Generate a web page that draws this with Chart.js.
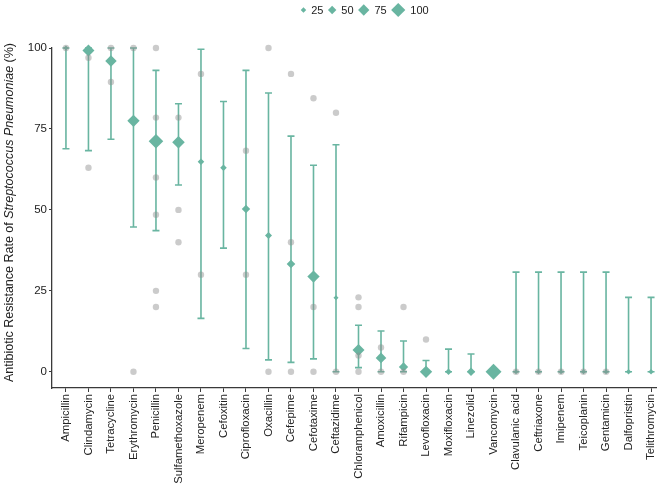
<!DOCTYPE html>
<html><head><meta charset="utf-8">
<script src="https://cdn.jsdelivr.net/npm/chart.js@4"></script>
<style>html,body{margin:0;padding:0;background:#fff}#wrap{width:660px;height:487px;position:relative}</style>
</head><body><div id="wrap"><canvas id="c"></canvas></div>
<script>
const categories = ['Ampicillin','Clindamycin','Tetracycline','Erythromycin','Penicillin','Sulfamethoxazole','Meropenem','Cefoxitin','Ciprofloxacin','Oxacillin','Cefepime','Cefotaxime','Ceftazidime','Chloramphenicol','Amoxicillin','Rifampicin','Levofloxacin','Moxifloxacin','Linezolid','Vancomycin','Clavulanic acid','Ceftriaxone','Imipenem','Teicoplanin','Gentamicin','Dalfopristin','Telithromycin'];
const pooledRate = [100,99.2,96,77.5,71.2,70.9,64.9,63,50.3,42.1,33.3,29.4,22.9,6.7,4.3,1.5,0,0,0,0,0,0,0,0,0,0,0];
const ciLower = [68.9,68.3,71.8,44.7,43.6,57.7,16.5,38.2,7.2,3.7,2.9,4.0,0,1.3,0,0,0,0,0,0,0,0,0,0,0,0,0];
const ciUpper = [100,100,100,100,93.1,82.8,99.6,83.5,93.1,86.1,72.8,63.8,70.1,14.4,12.6,9.5,3.5,7,5.5,0,30.8,30.8,30.8,30.8,30.8,23,23];
const studyWeight = [20,81,76,84,103,86,34,34,50,38,52,84,21,81,69,58,84,34,50,115,21,21,21,21,21,24,24];
const studyRates = [[100],[97,63],[100,89.5],[100,0],[100,78.5,60,48.5,25,20],[78.5,50,40],[92,30],[],[68.3,30],[100,0],[92,40,0],[84.5,20,0],[80,0],[23,20,5,0],[7.5,0],[20,0],[10],[],[],[],[0],[0],[0],[0],[0],[],[]];
const legendSizes = [25,50,75,100];
const yTicks = [0,25,50,75,100];

const TEAL = '#69b5a1';
const GRAY = 'rgba(140,140,140,0.45)';
const AXIS = '#3a3a3a';
const FONT = '"Liberation Sans", Arial, sans-serif';
function radiusFor(w){ return 1.3 + 0.058 * w; }

const stretchX = {
  id: 'stretchX',
  afterLayout(chart){
    const x = chart.scales.x;
    const target = chart.width - 4;
    if (Math.abs(x.right - target) > 0.5) {
      x.right = target;
      x.width = target - x.left;
      chart.chartArea.right = target;
      chart.chartArea.width = target - chart.chartArea.left;
      x.configure();
    }
  }
};

const errorBars = {
  id: 'errorBars',
  beforeDatasetsDraw(chart){
    const {ctx, scales:{x, y}} = chart;
    ctx.save();
    ctx.strokeStyle = TEAL; ctx.lineWidth = 1.6;
    categories.forEach((c, i) => {
      if (ciUpper[i] === ciLower[i]) return;
      const px = x.getPixelForValue(i);
      const t = y.getPixelForValue(ciUpper[i]);
      const b = y.getPixelForValue(ciLower[i]);
      ctx.beginPath();
      ctx.moveTo(px, t); ctx.lineTo(px, b);
      ctx.moveTo(px - 3.5, t); ctx.lineTo(px + 3.5, t);
      ctx.moveTo(px - 3.5, b); ctx.lineTo(px + 3.5, b);
      ctx.stroke();
    });
    ctx.restore();
  }
};

const sizeLegend = {
  id: 'sizeLegend',
  afterDraw(chart){
    const ctx = chart.ctx;
    ctx.save();
    ctx.font = '11px ' + FONT;
    ctx.textBaseline = 'middle';
    const cy = 10;
    const items = legendSizes.map(s => ({s, r: radiusFor(s), tw: ctx.measureText(String(s)).width}));
    let total = 0;
    items.forEach((it, k) => { total += 2 * it.r + 5 + it.tw + (k < items.length - 1 ? 4.5 : 0); });
    let x = 364.7 - total / 2;
    items.forEach(it => {
      const cx = x + it.r;
      ctx.fillStyle = TEAL;
      ctx.beginPath();
      ctx.moveTo(cx - it.r, cy); ctx.lineTo(cx, cy - it.r); ctx.lineTo(cx + it.r, cy); ctx.lineTo(cx, cy + it.r);
      ctx.closePath(); ctx.fill();
      ctx.fillStyle = '#222';
      const tx = cx + it.r + 5;
      ctx.fillText(String(it.s), tx, cy + 0.5);
      x = tx + it.tw + 4.5;
    });
    ctx.restore();
  }
};

const yTitle = {
  id: 'yTitle',
  afterDraw(chart){
    const ctx = chart.ctx;
    const parts = [
      ['Antibiotic Resistance Rate of ', 'normal'],
      ['Streptococcus Pneumoniae', 'italic'],
      [' (%)', 'normal']
    ];
    ctx.save();
    let total = 0;
    parts.forEach(p => { ctx.font = p[1] + ' 12.5px ' + FONT; p.push(ctx.measureText(p[0]).width); total += p[2]; });
    ctx.translate(10, 212.5);
    ctx.rotate(-Math.PI / 2);
    ctx.fillStyle = '#222';
    ctx.textBaseline = 'middle';
    let x = -total / 2;
    parts.forEach(p => { ctx.font = p[1] + ' 12.5px ' + FONT; ctx.fillText(p[0], x, 0); x += p[2]; });
    ctx.restore();
  }
};

const diamondPoints = categories.map((c, i) => ({x: i, y: pooledRate[i]}));
const studyPoints = [];
studyRates.forEach((arr, i) => arr.forEach(v => studyPoints.push({x: i, y: v})));

new Chart(document.getElementById('c'), {
  type: 'scatter',
  data: {
    datasets: [
      {
        label: 'Pooled', data: diamondPoints, order: 2, clip: false,
        pointStyle: 'rectRot', pointRadius: studyWeight.map(radiusFor), pointHoverRadius: studyWeight.map(radiusFor),
        backgroundColor: TEAL, borderColor: TEAL, pointBorderWidth: 0
      },
      {
        label: 'Studies', data: studyPoints, order: 1, clip: false,
        pointStyle: 'circle', pointRadius: 3.2, backgroundColor: GRAY, borderColor: GRAY, pointBorderWidth: 0
      }
    ]
  },
  options: {
    responsive: true, maintainAspectRatio: false, animation: false,
    layout: {padding: {top: 48, right: 0, left: 0, bottom: 0}},
    plugins: {legend: {display: false}, tooltip: {enabled: false}},
    scales: {
      x: {
        type: 'linear', min: -0.62, max: 26.22,
        afterBuildTicks: s => { s.ticks = categories.map((c, i) => ({value: i})); },
        afterFit: s => { s.height = 99; s.paddingLeft = 0; s.paddingRight = 0; },
        grid: {drawOnChartArea: false, drawTicks: true, tickLength: 4, color: AXIS, lineWidth: 1},
        border: {color: AXIS, width: 1.3},
        ticks: {
          autoSkip: false, minRotation: 90, maxRotation: 90, padding: 2,
          color: '#222', font: {size: 11.3, family: FONT},
          callback: v => categories[v]
        }
      },
      y: {
        type: 'linear', min: -5, max: 100,
        afterBuildTicks: s => { s.ticks = yTicks.map(v => ({value: v})); },
        afterFit: s => { s.width = 52; s.paddingTop = 0; s.paddingBottom = 0; s.paddingLeft = 0; s.paddingRight = 0; },
        grid: {drawOnChartArea: false, drawTicks: true, tickLength: 3, color: AXIS, lineWidth: 1},
        border: {color: AXIS, width: 1.3},
        ticks: {padding: 2, color: '#222', font: {size: 11.5, family: FONT}}
      }
    }
  },
  plugins: [stretchX, errorBars, sizeLegend, yTitle]
});
</script>
</body></html>
